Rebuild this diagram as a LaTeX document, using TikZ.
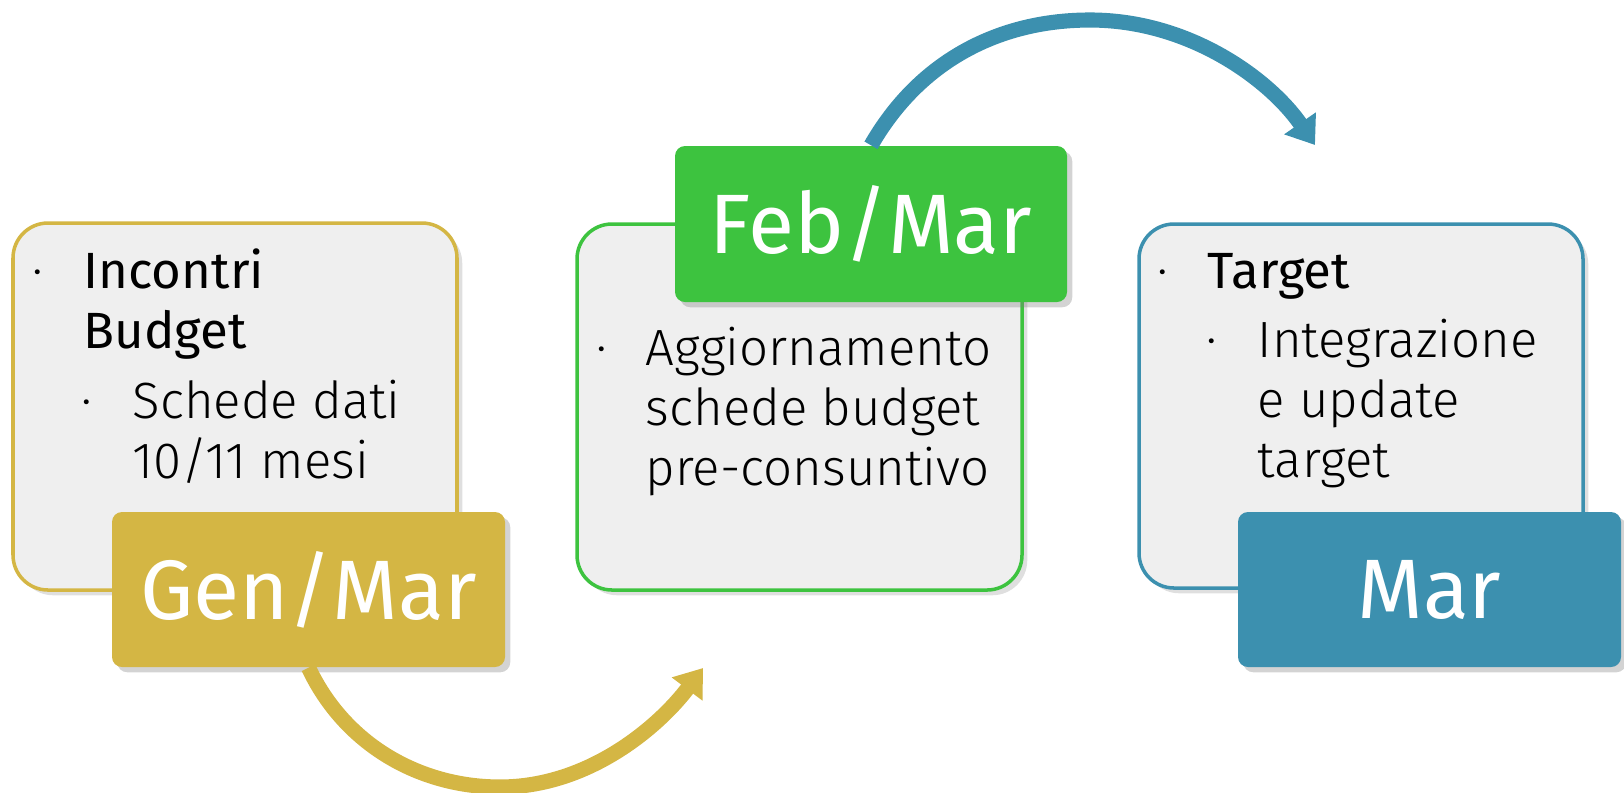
\documentclass[tikz,border=0pt]{standalone}
\usepackage{fontspec}
\setmainfont{Fira Sans Light}
\newfontfamily\regfont{Fira Sans}
\usetikzlibrary{arrows.meta, shadows}
\definecolor{gold}{HTML}{D4B644}
\definecolor{grass}{HTML}{3DC33F}
\definecolor{sea}{HTML}{3C90AF}
\definecolor{paper}{HTML}{EFEFEF}

\begin{document}
\begin{tikzpicture}[x=0.1mm, y=-0.1mm]
    \tikzstyle{every node} = [inner sep=0pt]
    \tikzstyle{card} = [draw, line width=1pt, fill=paper, rounded corners=3.5mm, drop shadow={opacity=0.25, shadow xshift=1.5pt, shadow yshift=-1.5pt}]
    \tikzstyle{tag} = [rounded corners=1mm, text=white, font=\regfont\fontsize{24}{28}\selectfont, drop shadow={opacity=0.35, shadow xshift=1.5pt, shadow yshift=-1.5pt}]
    \tikzstyle{item} = [anchor=base west, align=left, font=\fontsize{14.5}{17.07}\selectfont]
    \tikzstyle{dot} = [anchor=base, font=\fontsize{14.5}{17.07}\selectfont]
    \tikzstyle{flow} = [line width=4.3pt, -{Triangle[length=7.5pt, width=10.5pt]}]
    \useasboundingbox (0,0) rectangle (1624,792);
    \node (g) [card, draw=gold, minimum width=44.4mm, minimum height=36.7mm] at (235,406.5) {};
    \node (f) [card, draw=grass, minimum width=44.5mm, minimum height=36.6mm] at (799.5,407) {};
    \node (m) [card, draw=sea, minimum width=44.4mm, minimum height=36.4mm] at (1361,406) {};
    \node (gd1) [dot] at (38,288) {·};
    \node (gt1) [item, font=\regfont\fontsize{14.5}{17.07}\selectfont] at (83,348) {Incontri\\Budget};
    \node (gd2) [dot] at (87,418) {·};
    \node (gt2) [item] at (132,478) {Schede dati\\10/11 mesi};
    \node (fd1) [dot] at (602,365) {·};
    \node (ft1) [item] at (645,485) {Aggiornamento\\schede budget\\pre-consuntivo};
    \node (md1) [dot] at (1163,288) {·};
    \node (mt1) [item, font=\regfont\fontsize{14.5}{17.07}\selectfont] at (1207,288) {Target};
    \node (md2) [dot] at (1212,357) {·};
    \node (mt2) [item] at (1257,477) {Integrazione\\e update\\target};
    \node (gen) [tag, fill=gold, minimum width=39.3mm, minimum height=15.5mm] at (308.5,589.5) {Gen/Mar};
    \node (feb) [tag, fill=grass, minimum width=39.2mm, minimum height=15.6mm] at (871,224) {Feb/Mar};
    \node (mar) [tag, fill=sea, minimum width=38.3mm, minimum height=15.5mm] at (1429.5,589.5) {Mar};
    \coordinate (goldend) at (703,668);
    \coordinate (seaend) at (1315,145);
    \draw [flow, gold] (gen.south) .. controls (345,745) and (420,787) .. (500,787) .. controls (590,787) and (660,725) .. (goldend);
    \draw [flow, sea] (feb.north) .. controls (920,60) and (1000,20) .. (1090,20) .. controls (1190,20) and (1270,80) .. (seaend);
\end{tikzpicture}
\end{document}
